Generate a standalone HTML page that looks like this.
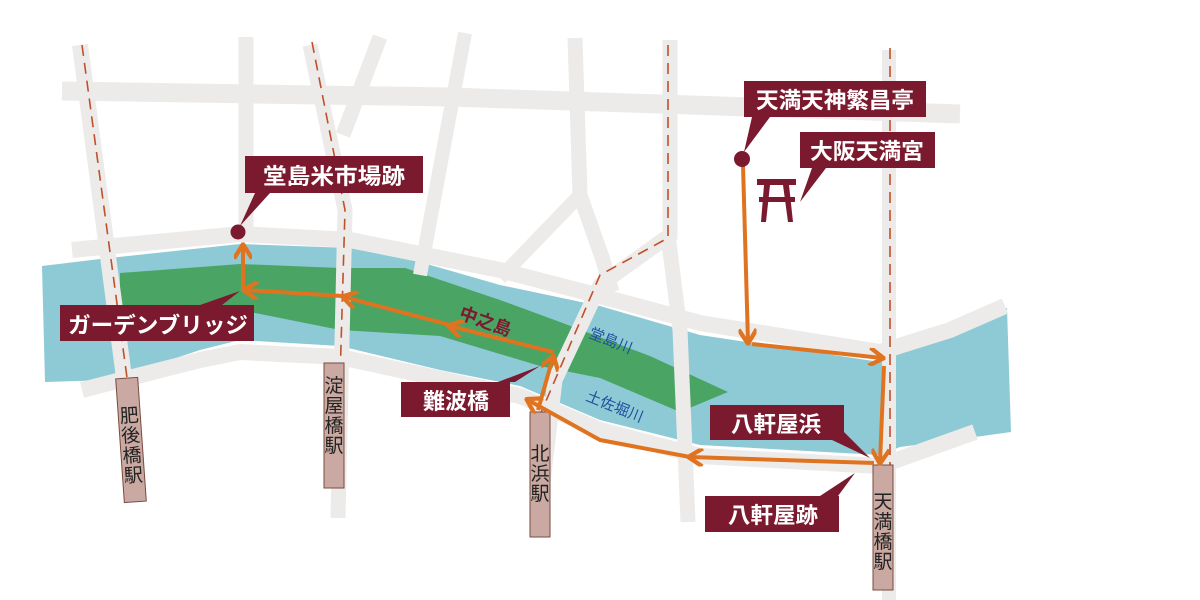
<!DOCTYPE html>
<html><head><meta charset="utf-8"><style>
html,body{margin:0;padding:0;background:#fff;width:1200px;height:600px;overflow:hidden}
svg{display:block}
.lbl{font-family:"Liberation Sans","Noto Sans CJK JP",sans-serif;font-weight:bold;font-size:22px;fill:#fff}
.st{font-family:"Liberation Sans","Noto Sans CJK JP",sans-serif;font-size:19px;fill:#222}
</style></head><body>
<svg width="1200" height="600" viewBox="0 0 1200 600" xmlns="http://www.w3.org/2000/svg">
<defs>
<marker id="ah" viewBox="0 0 10 10" refX="8" refY="5" markerWidth="4.5" markerHeight="4.5" orient="auto">
<path d="M1,0 L9,5 L1,10" fill="none" stroke="#e07320" stroke-width="2.4"/>
</marker>
</defs>
<path d="M42,266 L100,259 L240,244 L350,248 L420,262 L500,285 L600,306 L700,335 L880,362 L1000,310 L1007,308 L1011,432 L975,437 L900,447 L880,455 L700,445 L600,420 L520,386 L440,370 L340,346 L240,340 L200,350 L110,380 L45,382 Z" fill="#8ecad6"/>
<path d="M120,273 L240,264 L340,268 L405,268 L500,300 L560,322 L650,356 L728,392 L680,412 L600,378 L540,366 L440,336 L340,330 L250,312 L120,330 Z" fill="#4aa565"/>
<g stroke="#edebe9" fill="none" stroke-linecap="butt">
<path d="M62,91 L450,97 L960,114" stroke-width="19"/>
<path d="M72,250 L240,234 L350,240 L500,270 L600,296 L700,323 L880,352 L950,330 L1005,306" stroke-width="16"/>
<path d="M82,390 L200,360 L240,352 L340,357 L520,396 L600,430 L700,456 L880,466 L975,432" stroke-width="16"/>
<path d="M80,45 L127,400" stroke-width="16"/>
<path d="M246,37 L246,235" stroke-width="15"/>
<path d="M310,45 L345,210 L338,518" stroke-width="15"/>
<path d="M380,37 L343,135" stroke-width="15"/>
<path d="M465,33 L420,275" stroke-width="14"/>
<path d="M575,38 L580,195 L603,260 L612,292" stroke-width="15"/>
<path d="M580,195 L500,278" stroke-width="14"/>
<path d="M670,40 L670,235 L600,285 L555,380 L538,525" stroke-width="15"/>
<path d="M668,235 L680,330 L688,522" stroke-width="15"/>
<path d="M889,50 L889,600" stroke-width="14"/>
</g>
<g stroke="#c0502a" stroke-width="1.6" fill="none" stroke-dasharray="11,7">
<path d="M82,45 L128,385"/>
<path d="M312,42 L345,210 L340,380"/>
<path d="M668,45 L668,238 L600,275 L540,415"/>
<path d="M890,48 L890,470"/>
</g>
<g stroke="#7a4a40" stroke-width="1" fill="#c9a9a1">
<rect x="120" y="378" width="22" height="124" transform="rotate(-4 131 440)"/>
<rect x="324" y="363" width="20" height="125"/>
<rect x="530" y="412" width="20" height="125"/>
<rect x="873" y="465" width="20" height="125"/>
</g>
<g class="st" text-anchor="middle">
<text transform="rotate(-4 131 440)" x="131" y="422">肥<tspan x="131" dy="20">後</tspan><tspan x="131" dy="20">橋</tspan><tspan x="131" dy="20">駅</tspan></text>
<text x="334" y="392">淀<tspan x="334" dy="20">屋</tspan><tspan x="334" dy="20">橋</tspan><tspan x="334" dy="20">駅</tspan></text>
<text x="540" y="460">北<tspan x="540" dy="20">浜</tspan><tspan x="540" dy="20">駅</tspan></text>
<text x="883" y="508">天<tspan x="883" dy="20">満</tspan><tspan x="883" dy="20">橋</tspan><tspan x="883" dy="20">駅</tspan></text>
</g>
<g stroke="#e07320" stroke-width="4" fill="none" stroke-linejoin="round" marker-end="url(#ah)">
<path d="M743,165 L748,342"/>
<path d="M752,344 L882,358"/>
<path d="M884,366 L880,462"/>
<path d="M874,463 L690,457"/>
<path d="M690,457 L600,440 L528,400"/>
<path d="M538,410 L553,357"/>
<path d="M553,352 L450,326"/>
<path d="M450,325 L344,297"/>
<path d="M342,296 L245,290"/>
<path d="M243,292 L243,246"/>
</g>
<circle cx="238" cy="232" r="7.5" fill="#7b1a2e"/>
<circle cx="742" cy="159" r="8" fill="#7b1a2e"/>
<g fill="#7b1a2e">
<rect x="757" y="179" width="39" height="6"/>
<rect x="759" y="197" width="36" height="5"/>
<path d="M764,185 L770,185 L766,222 L761,222 Z"/>
<path d="M783,185 L789,185 L793,222 L788,222 Z"/>
</g>
<g fill="#7b1a2e">
<rect x="744" y="81" width="182" height="36"/><path d="M752,117 L770,117 L744,152 Z"/>
<rect x="800" y="132" width="135" height="36"/><path d="M812,168 L826,168 L800,202 Z"/>
<rect x="245" y="156" width="178" height="37"/><path d="M255,193 L270,193 L240,226 Z"/>
<rect x="60" y="305" width="194" height="36"/><path d="M200,305 L240,291 L222,305 Z"/>
<rect x="401" y="382" width="109" height="35"/><path d="M498,382 L540,366 L515,382 Z"/>
<rect x="710" y="405" width="134" height="35"/><path d="M842,430 L870,458 L832,440 Z"/>
<rect x="705" y="496" width="134" height="36"/><path d="M820,496 L855,473 L838,496 Z"/>
</g>
<g class="lbl">
<text x="756" y="108" textLength="158" lengthAdjust="spacingAndGlyphs">天満天神繁昌亭</text>
<text x="810" y="159" textLength="114" lengthAdjust="spacingAndGlyphs">大阪天満宮</text>
<text x="263" y="184" textLength="142" lengthAdjust="spacingAndGlyphs">堂島米市場跡</text>
<text x="68" y="333" textLength="180" lengthAdjust="spacingAndGlyphs">ガーデンブリッジ</text>
<text x="423" y="409" textLength="66" lengthAdjust="spacingAndGlyphs">難波橋</text>
<text x="731" y="432" textLength="90" lengthAdjust="spacingAndGlyphs">八軒屋浜</text>
<text x="728" y="523" textLength="90" lengthAdjust="spacingAndGlyphs">八軒屋跡</text>
</g>
<text transform="translate(458,318) rotate(20)" font-family="'Liberation Sans','Noto Sans CJK JP',sans-serif" font-weight="bold" font-size="18" fill="#7b1a2e">中之島</text>
<text transform="translate(588,337) rotate(22)" font-family="'Liberation Sans','Noto Sans CJK JP',sans-serif" font-size="15" fill="#1e4f9e">堂島川</text>
<text transform="translate(585,400) rotate(22)" font-family="'Liberation Sans','Noto Sans CJK JP',sans-serif" font-size="15" fill="#1e4f9e">土佐堀川</text>
</svg>
</body></html>
